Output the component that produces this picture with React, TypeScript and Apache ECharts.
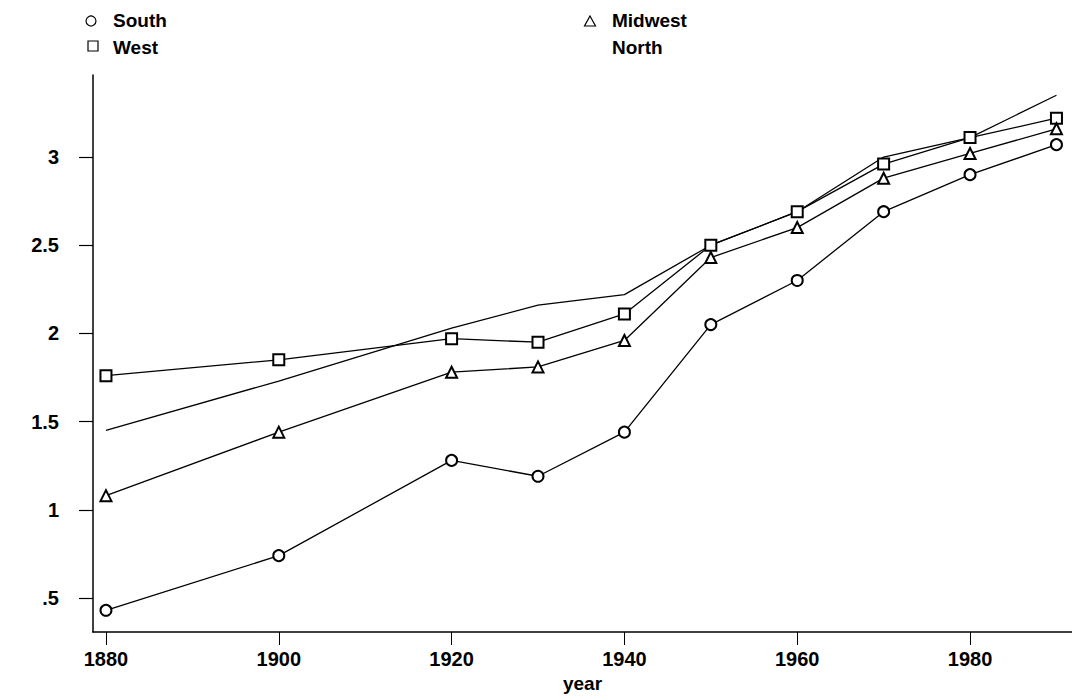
import React, { useEffect, useRef } from 'react';
import * as echarts from 'echarts';

const years = [1880, 1900, 1920, 1930, 1940, 1950, 1960, 1970, 1980, 1990];
const south = [0.43, 0.74, 1.28, 1.19, 1.44, 2.05, 2.30, 2.69, 2.90, 3.07];
const west = [1.76, 1.85, 1.97, 1.95, 2.11, 2.50, 2.69, 2.96, 3.11, 3.22];
const midwest = [1.08, 1.44, 1.78, 1.81, 1.96, 2.43, 2.60, 2.88, 3.02, 3.16];
const north = [1.45, 1.73, 2.03, 2.16, 2.22, 2.50, 2.69, 3.00, 3.11, 3.35];
const xTicks = [1880, 1900, 1920, 1940, 1960, 1980];
const yTicks = [0.5, 1, 1.5, 2, 2.5, 3];

const FONT = "'Liberation Sans', Arial, sans-serif";

export default function App() {
  const ref = useRef<HTMLDivElement>(null);
  useEffect(() => {
    if (!ref.current) return;
    const chart = echarts.init(ref.current, null, { renderer: 'svg' });
    const mk = (name: string, vals: number[], symbol: string) => ({
      name,
      type: 'line',
      data: years.map((y, i) => [y, vals[i]]),
      symbol,
      symbolSize: 11,
      showSymbol: symbol !== 'none',
      lineStyle: { color: '#000', width: 1.3 },
      itemStyle: { color: '#000', borderColor: '#000', borderWidth: 1.2 },
      emphasis: { disabled: true },
      z: 3,
    });
    const legendCommon = {
      orient: 'vertical',
      top: 11,
      itemWidth: 32,
      itemHeight: 12,
      itemGap: 8,
      padding: 0,
      selectedMode: false,
      textStyle: { fontSize: 19, fontFamily: FONT, color: '#000', fontWeight: 'bold' },
      lineStyle: { opacity: 0 },
      itemStyle: { opacity: 0 },
    };
    const iconStyle = { fill: '#fff', stroke: '#000', lineWidth: 1.2 };
    chart.setOption({
      animation: false,
      backgroundColor: '#fff',
      legend: [
        { ...legendCommon, left: 75, data: ['South', 'West'] },
        { ...legendCommon, left: 574, data: ['Midwest', 'North'] },
      ],
      graphic: [
        { type: 'circle', shape: { cx: 91, cy: 21, r: 5 }, style: iconStyle, z: 10 },
        { type: 'rect', shape: { x: 88, y: 41, width: 10, height: 10 }, style: iconStyle, z: 10 },
        { type: 'polygon', shape: { points: [[590, 16], [595.5, 26], [584.5, 26]] }, style: iconStyle, z: 10 },
      ],
      grid: { left: 93, right: 0, top: 75, bottom: 64, outerBoundsMode: 'none' },
      xAxis: {
        type: 'value',
        min: 1878.5,
        max: 1991.8,
        name: 'year',
        nameLocation: 'middle',
        nameGap: 42,
        nameTextStyle: { fontSize: 19, fontFamily: FONT, color: '#000', fontWeight: 'bold' },
        axisLine: { show: true, onZero: false, lineStyle: { color: '#000', width: 1.5 } },
        axisTick: { show: true, length: 13, customValues: xTicks, lineStyle: { color: '#000', width: 1 } },
        axisLabel: {
          customValues: xTicks,
          margin: 17,
          fontSize: 20,
          fontWeight: 'bold',
          fontFamily: FONT,
          color: '#000',
          formatter: (v: number) => String(v),
        },
        splitLine: { show: false },
      },
      yAxis: {
        type: 'value',
        min: 0.307,
        max: 3.465,
        axisLine: { show: true, onZero: false, lineStyle: { color: '#000', width: 1.5 } },
        axisTick: { show: true, length: 14, customValues: yTicks, lineStyle: { color: '#000', width: 1.2 } },
        axisLabel: {
          customValues: yTicks,
          margin: 34,
          fontSize: 20,
          fontWeight: 'bold',
          fontFamily: FONT,
          color: '#000',
          formatter: (v: number) => (v === 0.5 ? '.5' : String(v)),
        },
        splitLine: { show: false },
      },
      series: [
        mk('South', south, 'emptyCircle'),
        mk('West', west, 'emptyRect'),
        mk('Midwest', midwest, 'emptyTriangle'),
        mk('North', north, 'none'),
      ],
    });
    return () => chart.dispose();
  }, []);
  return (
    <div
      ref={ref}
      style={{ position: 'absolute', left: 0, top: 0, width: 1072, height: 696, background: '#fff' }}
    />
  );
}
